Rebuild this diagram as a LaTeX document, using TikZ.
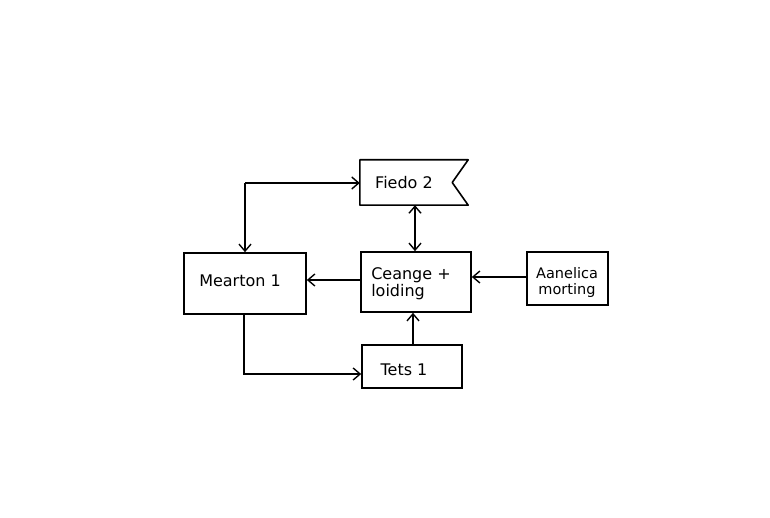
\documentclass[tikz,border=0pt]{standalone}
\usepackage{fontspec}
\setmainfont{DejaVu Sans}
\usetikzlibrary{arrows.meta,calc}
\tikzset{
  >={Straight Barb[length=7pt,width=12pt,line width=1.4pt]},
  box/.style={draw, line width=1.6pt, inner sep=0pt},
  lbl/.style={font=\fontsize{16}{17}\selectfont, inner sep=0pt, align=left},
  conn/.style={line width=1.4pt, ->},
}
\begin{document}
\begin{tikzpicture}[x=1pt,y=-1pt]
\useasboundingbox[fill=white] (0,0) rectangle (770,518);
% nodes
\node[inner sep=0pt, minimum width=108pt, minimum height=45pt] (fiedo) at (414,182.5) {};
\draw[line width=1.6pt, line join=round] (fiedo.north west) -- (fiedo.north east) -- ($(fiedo.east)+(-16,0)$) -- (fiedo.south east) -- (fiedo.south west) -- cycle;
\node[lbl] (fiedotxt) at (404,183) {Fiedo 2};
\node[box, minimum width=122pt, minimum height=61pt] (mearton) at (245,283.5) {};
\node[lbl] (meartontxt) at (240,281) {Mearton 1};
\node[box, minimum width=110pt, minimum height=60pt] (ceange) at (416,282) {};
\node[lbl, align=left, font=\fontsize{16}{17}\selectfont] (ceangetxt) at (411,284) {Ceange +\\loiding};
\node[box, minimum width=81pt, minimum height=53pt] (aanelica) at (567.5,278.5) {};
\node[lbl, align=center, font=\fontsize{14.5}{16}\selectfont] (aanelicatxt) at (567,282) {Aanelica\\morting};
\node[box, minimum width=100pt, minimum height=43pt] (tets) at (412,366.5) {};
\node[lbl] (tetstxt) at (404,370) {Tets 1};
% connectors
\coordinate (c1) at (245,183);
\draw[conn] (c1) -- (fiedo.west |- c1);
\draw[conn] (c1) -- (mearton.north -| c1);
\draw[line width=1.4pt, <->] (fiedo.south -| 415,0) -- (ceange.north -| 415,0);
\draw[conn] (ceange.west |- 0,280) -- (mearton.east |- 0,280);
\draw[conn] (aanelica.west |- 0,277) -- (ceange.east |- 0,277);
\draw[conn] (mearton.south -| 244,0) |- (tets.west |- 0,374);
\draw[conn] (tets.north -| 413,0) -- (ceange.south -| 413,0);
\end{tikzpicture}
\end{document}
